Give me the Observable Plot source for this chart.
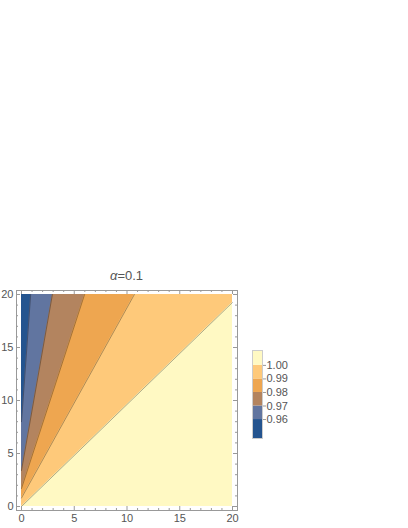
<!DOCTYPE html>
<html>
<head>
<meta charset="utf-8">
<script src="https://cdn.jsdelivr.net/npm/d3@7"></script>
<script src="https://cdn.jsdelivr.net/npm/@observablehq/plot@0.6"></script>
<style>
  html, body { margin: 0; padding: 0; background: #fff; }
  #fig { position: relative; width: 408px; height: 528px; font-family: "Liberation Sans", Arial, sans-serif; }
  #fig > * { position: absolute; }
  #title { left: 0; width: 253px; top: 269px; text-align: center; font-size: 13px; color: #555; line-height: 14px; }
</style>
</head>
<body>
<div id="fig">
  <div id="title"><i>α</i>=0.1</div>
</div>
<script>
// contour levels and band colours (band k lies left of contour k; last band is right of the 1.00 contour)
const levels = [0.96, 0.97, 0.98, 0.99, 1.00];
const bandColors = ["#24548f", "#6175a0", "#b3845f", "#eea650", "#fec97a", "#fff9c3"];
// each contour line: start point on the y-axis (x = 0) and end point on the top/right edge
const lineStartX = [0, 0, 0, 0, 0];
const lineStartY = [8.0, 3.4, 1.7, 0.8, 0.0];
const lineEndX = [0.87, 2.93, 5.98, 10.7, 20];
const lineEndY = [20, 20, 20, 20, 19.25];
const domainMax = 20;
const majorTicks = [0, 5, 10, 15, 20];
const minorTicks = [1, 2, 3, 4, 6, 7, 8, 9, 11, 12, 13, 14, 16, 17, 18, 19];
const legendBottom = 0.946, legendTop = 1.011;

const W = 408, H = 528, mL = 16, mR = 171, mT = 290, mB = 18;
const frameW = W - mL - mR, frameH = H - mT - mB;
const gray = "#999", textGray = "#555";

// region polygons (left of each contour), described as areaX points
function regionPoints(k) {
  const pts = [{y: lineStartY[k], x: lineStartX[k]}, {y: lineEndY[k], x: lineEndX[k]}];
  if (lineEndY[k] < domainMax) pts.push({y: domainMax, x: lineEndX[k]});
  return pts;
}
const background = [{y: 0, x: domainMax}, {y: domainMax, x: domainMax}];

const marks = [];
marks.push(Plot.areaX(background, {y: "y", x1: 0, x2: "x", fill: bandColors[5]}));
for (let k = levels.length - 1; k >= 0; k--) {
  marks.push(Plot.areaX(regionPoints(k), {y: "y", x1: 0, x2: "x", fill: bandColors[k]}));
}
for (let k = 0; k < levels.length; k++) {
  marks.push(Plot.line([{x: lineStartX[k], y: lineStartY[k]}, {x: lineEndX[k], y: lineEndY[k]}],
    {x: "x", y: "y", stroke: "#000", strokeOpacity: 0.45, strokeWidth: 0.7}));
}
marks.push(Plot.frame({stroke: gray, strokeWidth: 1}));
// inward ticks on all four sides
const tickStyle = {stroke: gray, strokeWidth: 1};
marks.push(Plot.ruleX(majorTicks, {...tickStyle, insetTop: frameH - 4}));
marks.push(Plot.ruleX(majorTicks, {...tickStyle, insetBottom: frameH - 4}));
marks.push(Plot.ruleX(minorTicks, {...tickStyle, insetTop: frameH - 2}));
marks.push(Plot.ruleX(minorTicks, {...tickStyle, insetBottom: frameH - 2}));
marks.push(Plot.ruleY(majorTicks, {...tickStyle, insetRight: frameW - 4}));
marks.push(Plot.ruleY(majorTicks, {...tickStyle, insetLeft: frameW - 4}));
marks.push(Plot.ruleY(minorTicks, {...tickStyle, insetRight: frameW - 2}));
marks.push(Plot.ruleY(minorTicks, {...tickStyle, insetLeft: frameW - 2}));
marks.push(Plot.axisX(majorTicks, {tickSize: 0, tickPadding: 4, fill: textGray, fontSize: 11, label: null}));
marks.push(Plot.axisY(majorTicks, {tickSize: 0, tickPadding: 3, fill: textGray, fontSize: 11, label: null}));

const chart = Plot.plot({
  width: W, height: H,
  marginLeft: mL, marginRight: mR, marginTop: mT, marginBottom: mB,
  insetLeft: 5, insetRight: 5, insetTop: 4, insetBottom: 4,
  x: {domain: [0, domainMax]},
  y: {domain: [0, domainMax]},
  style: {fontFamily: "Liberation Sans, Arial, sans-serif", background: "transparent"},
  marks
});
chart.style.left = "0px"; chart.style.top = "0px";
document.getElementById("fig").appendChild(chart);

// legend: stacked bands
const legendLows = [legendBottom, ...levels];
const legendHighs = [...levels, legendTop];
const legendData = bandColors.map((c, i) => ({y1: legendLows[i], y2: legendHighs[i], c}));
const legend = Plot.plot({
  width: 46, height: 88,
  marginLeft: 0, marginRight: 36, marginTop: 0, marginBottom: 0,
  y: {domain: [legendBottom, legendTop]},
  style: {fontFamily: "Liberation Sans, Arial, sans-serif", background: "transparent", overflow: "visible"},
  marks: [
    Plot.rect(legendData, {y1: "y1", y2: "y2", fill: "c"}),
    Plot.frame({stroke: "#ccc"}),
    Plot.axisY(levels, {anchor: "right", tickSize: 3, tickPadding: 1, stroke: gray, fill: textGray, fontSize: 11, tickFormat: d3.format(".2f"), label: null})
  ]
});
legend.style.left = "252px"; legend.style.top = "350px";
document.getElementById("fig").appendChild(legend);
</script>
</body>
</html>
